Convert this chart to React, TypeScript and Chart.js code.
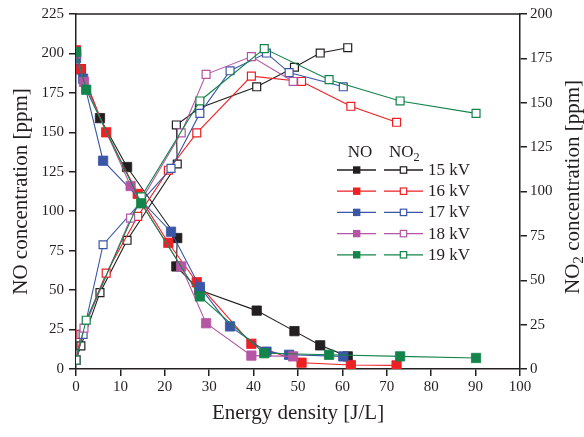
import React, { useEffect, useRef } from 'react';
import Chart from 'chart.js/auto';

const FONT = '"Liberation Serif", "Times New Roman", serif';
const INK = '#231f20';

// Discharge voltages and their colours
const voltages = ['15 kV', '16 kV', '17 kV', '18 kV', '19 kV'];
const colors = ['#231f20', '#ed2024', '#3a56a6', '#b556a4', '#13844a'];

// Energy density [J/L] with NO (left axis) and NO2 (right axis) concentrations [ppm]
const energy15 = [0, 1.1, 5.4, 11.5, 22.8, 22.6, 27.8, 40.7, 49.2, 55.0, 61.2];
const no15 = [200, 190, 159, 128, 83, 65, 50, 37, 24, 15, 8];
const no2of15 = [5, 13, 43, 72.5, 115.5, 137.5, 147, 159, 170, 178, 181];

const energy16 = [0, 1.1, 6.8, 13.9, 20.8, 27.2, 39.5, 50.8, 61.9, 72.2];
const no16 = [202, 190, 150, 111, 80, 55, 16, 4, 2.5, 2.3];
const no2of16 = [5, 19.5, 54, 86, 112, 133, 165, 162, 148, 139];

const energy17 = [0, 1.6, 6.1, 21.4, 27.9, 34.7, 42.9, 48.0, 60.2];
const no17 = [197, 184, 132, 87, 52, 27, 11, 9, 8];
const no2of17 = [5, 19.5, 70, 113, 144, 168, 178, 167, 159];

const energy18 = [0, 1.8, 12.3, 23.7, 29.3, 39.5, 48.9];
const no18 = [200, 182, 116, 65, 29, 8.5, 8];
const no2of18 = [5, 23, 85, 133, 166, 176, 162];

const energy19 = [0, 2.3, 14.7, 27.9, 42.4, 57.0, 73.0, 90.1];
const no19 = [201, 177, 105, 46, 10, 9, 8, 7];
const no2of19 = [5, 27.5, 97, 151, 180.5, 163, 151, 144];

const energies = [energy15, energy16, energy17, energy18, energy19];
const noSeries = [no15, no16, no17, no18, no19];
const no2Series = [no2of15, no2of16, no2of17, no2of18, no2of19];

const xTicksMax = 100;
const noAxisMax = 225;
const no2AxisMax = 200;
const tickStepY = 25;
const tickStepX = 10;

function pairs(xs: number[], ys: number[]) {
  return xs.map((x, i) => ({ x, y: ys[i] }));
}

// Draws "base" followed by a subscript, starting at (x, y)
function drawSub(ctx: CanvasRenderingContext2D, base: string, sub: string, x: number, y: number, size: number) {
  ctx.textAlign = 'left';
  ctx.textBaseline = 'middle';
  ctx.font = `${size}px ${FONT}`;
  const wb = ctx.measureText(base).width;
  ctx.fillText(base, x, y);
  ctx.font = `${size * 0.72}px ${FONT}`;
  ctx.fillText(sub, x + wb, y + size * 0.3);
}

const decorations = {
  id: 'decorations',
  afterDraw(chart: any) {
    const { ctx, chartArea: a } = chart;
    ctx.save();
    ctx.fillStyle = INK;
    ctx.strokeStyle = INK;

    // top frame line
    ctx.lineWidth = 1.5;
    ctx.beginPath();
    ctx.moveTo(a.left - 0.75, a.top);
    ctx.lineTo(a.right + 0.75, a.top);
    ctx.stroke();

    // right axis title
    ctx.save();
    ctx.translate(573, 187);
    ctx.rotate(-Math.PI / 2);
    const size = 21;
    ctx.font = `${size}px ${FONT}`;
    const w1 = ctx.measureText('NO').width;
    const rest = ' concentration [ppm]';
    const w3 = ctx.measureText(rest).width;
    ctx.font = `${size * 0.72}px ${FONT}`;
    const w2 = ctx.measureText('2').width;
    const sx = -(w1 + w2 + w3) / 2;
    drawSub(ctx, 'NO', '2', sx, 0, size);
    ctx.font = `${size}px ${FONT}`;
    ctx.fillText(rest, sx + w1 + w2, 0);
    ctx.restore();

    // legend
    const legSize = 17;
    ctx.textBaseline = 'middle';
    ctx.textAlign = 'center';
    ctx.font = `${legSize}px ${FONT}`;
    ctx.fillText('NO', 360, 152.5);
    drawSub(ctx, 'NO', '2', 389, 152.5, legSize);

    const rowY0 = 170;
    const rowStep = 21.2;
    voltages.forEach((label, i) => {
      const y = rowY0 + i * rowStep;
      const c = colors[i];
      ctx.strokeStyle = c;
      ctx.lineWidth = 1.3;
      ctx.beginPath();
      ctx.moveTo(337, y);
      ctx.lineTo(376, y);
      ctx.moveTo(384, y);
      ctx.lineTo(423, y);
      ctx.stroke();
      ctx.fillStyle = c;
      ctx.fillRect(356.7 - 3.7, y - 3.7, 7.4, 7.4);
      ctx.fillStyle = '#fff';
      ctx.fillRect(403.5 - 3.2, y - 3.2, 6.4, 6.4);
      ctx.lineWidth = 1.2;
      ctx.strokeRect(403.5 - 3.2, y - 3.2, 6.4, 6.4);
      ctx.fillStyle = INK;
      ctx.textAlign = 'left';
      ctx.font = `${legSize}px ${FONT}`;
      ctx.fillText(label, 428, y + 0.5);
    });
    ctx.restore();
  },
};

export default function App() {
  const canvasRef = useRef<HTMLCanvasElement | null>(null);

  useEffect(() => {
    const canvas = canvasRef.current;
    if (!canvas) return;

    // highest voltage first so that it is drawn on top
    const datasets: any[] = [];
    for (let i = voltages.length - 1; i >= 0; i--) {
      const label = voltages[i];
      datasets.push({
        label: `NO ${label}`,
        data: pairs(energies[i], noSeries[i]),
        yAxisID: 'y',
        borderColor: colors[i],
        backgroundColor: colors[i],
        borderWidth: 1.1,
        pointStyle: 'rect',
        pointRadius: 6.6,
        pointBackgroundColor: colors[i],
        pointBorderColor: colors[i],
        pointBorderWidth: 0.8,
        tension: 0,
      });
      datasets.push({
        label: `NO2 ${label}`,
        data: pairs(energies[i], no2Series[i]),
        yAxisID: 'y2',
        borderColor: colors[i],
        backgroundColor: '#ffffff',
        borderWidth: 1.1,
        pointStyle: 'rect',
        pointRadius: 5.6,
        pointBackgroundColor: '#ffffff',
        pointBorderColor: colors[i],
        pointBorderWidth: 1.2,
        tension: 0,
      });
    }

    const tickFont = { family: FONT, size: 15 };
    const axisGrid = { drawOnChartArea: false, drawTicks: true, tickLength: 7, color: INK, lineWidth: 1.5 };
    const axisBorder = { display: true, color: INK, width: 1.5 };

    const chart = new Chart(canvas, {
      type: 'line',
      data: { datasets },
      plugins: [decorations],
      options: {
        responsive: false,
        animation: false,
        devicePixelRatio: 1,
        layout: { padding: { top: 11, left: 0, right: 0, bottom: 0 } },
        plugins: { legend: { display: false }, tooltip: { enabled: false } },
        scales: {
          x: {
            type: 'linear',
            min: 0,
            max: xTicksMax,
            ticks: { stepSize: tickStepX, font: tickFont, color: INK, padding: 2, maxRotation: 0 },
            grid: axisGrid,
            border: axisBorder,
            title: { display: true, text: 'Energy density [J/L]', color: INK, font: { family: FONT, size: 21 }, padding: { top: 0, bottom: 11 } },
            afterFit: (s: any) => { s.height = 68; },
          },
          y: {
            type: 'linear',
            position: 'left',
            min: 0,
            max: noAxisMax,
            ticks: { stepSize: tickStepY, font: tickFont, color: INK, padding: 5 },
            grid: axisGrid,
            border: axisBorder,
            title: { display: true, text: 'NO concentration [ppm]', color: INK, font: { family: FONT, size: 21 }, padding: { top: 9, bottom: 0 } },
            afterFit: (s: any) => { s.width = 76; },
          },
          y2: {
            type: 'linear',
            position: 'right',
            min: 0,
            max: no2AxisMax,
            ticks: { stepSize: tickStepY, font: tickFont, color: INK, padding: 3 },
            grid: axisGrid,
            border: axisBorder,
            afterFit: (s: any) => { s.width = 64; },
          },
        },
      },
    });

    return () => chart.destroy();
  }, []);

  return (
    <div style={{ position: 'absolute', left: 0, top: 0, width: 584, height: 437, background: '#fff' }}>
      <canvas ref={canvasRef} width={584} height={437} />
    </div>
  );
}
